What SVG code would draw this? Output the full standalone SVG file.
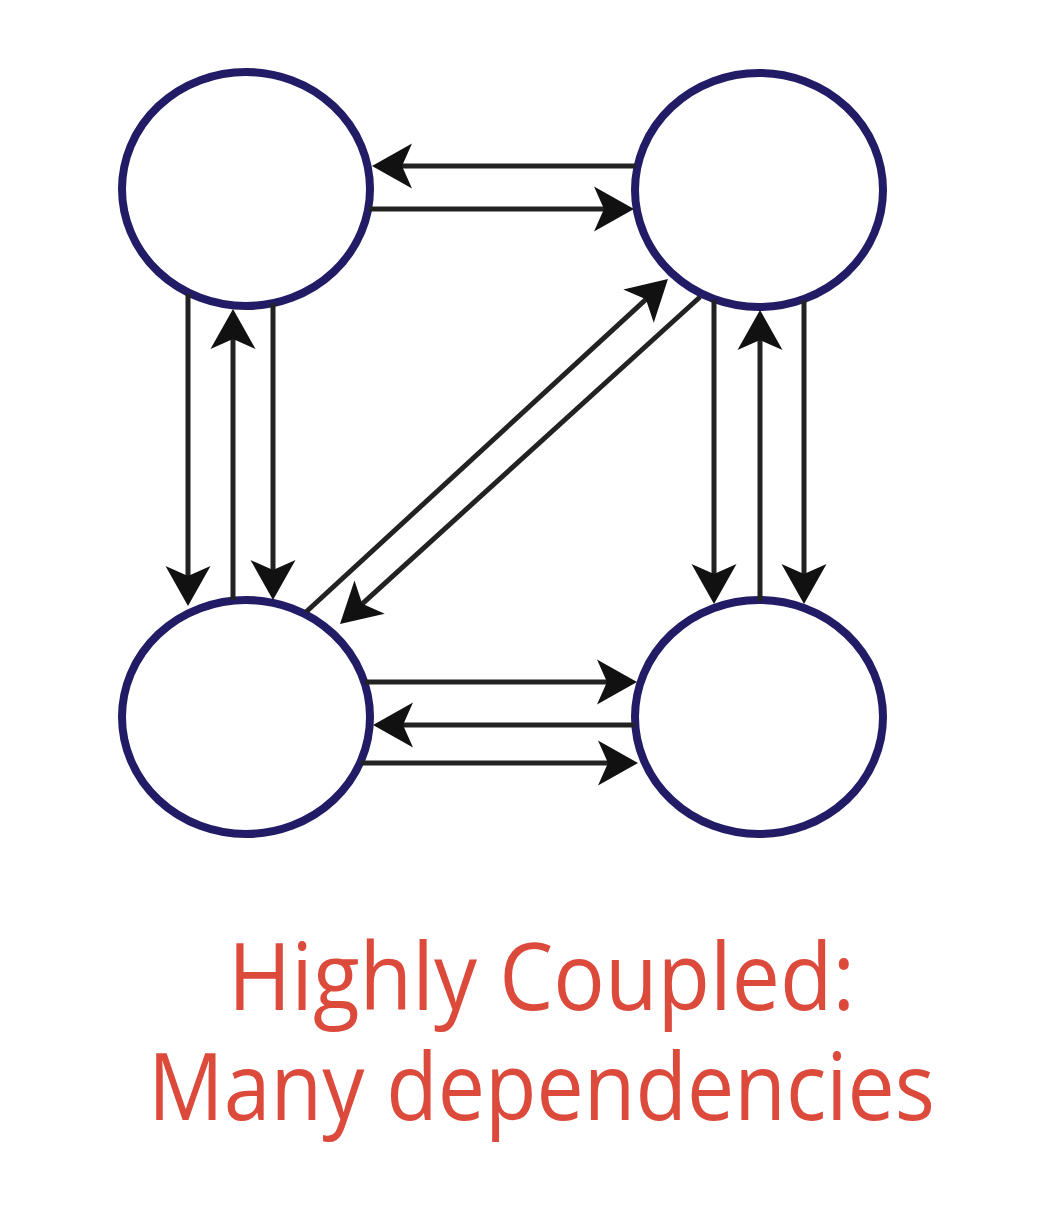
<svg xmlns="http://www.w3.org/2000/svg" width="1040" height="1228" viewBox="0 0 1040 1228">
  <style>
    .node { fill: #ffffff; stroke: #221b66; stroke-width: 8; }
    .edge { fill: none; stroke: #222222; stroke-width: 5; marker-end: url(#arrow); }
    .label { font-family: "Open Sans", "Noto Sans", sans-serif; font-size: 94px; font-weight: 500; fill: #dc4a3c; text-anchor: middle; }
  </style>
  <defs>
    <marker id="arrow" markerUnits="userSpaceOnUse" viewBox="-31 -24 43 48" markerWidth="43" markerHeight="48" refX="0" refY="0" orient="auto">
      <path d="M10,0 L-30,-22.5 L-20,0 L-30,22.5 Z" fill="#111111"/>
    </marker>
  </defs>
  <rect width="1040" height="1228" fill="#ffffff"/>

  <g id="node-top-left"><ellipse class="node" cx="246" cy="189" rx="124" ry="117"/></g>
  <g id="node-top-right"><ellipse class="node" cx="759" cy="190" rx="124" ry="117"/></g>
  <g id="node-bottom-left"><ellipse class="node" cx="246" cy="717" rx="124" ry="117"/></g>
  <g id="node-bottom-right"><ellipse class="node" cx="759" cy="717" rx="124" ry="117"/></g>

  <g id="connectors">
    <line class="edge" x1="636" y1="166" x2="382" y2="166"/>
    <line class="edge" x1="369" y1="209" x2="624" y2="209"/>
    <line class="edge" x1="365" y1="682" x2="627" y2="682"/>
    <line class="edge" x1="635" y1="725" x2="383" y2="725"/>
    <line class="edge" x1="361" y1="763" x2="628" y2="763"/>
    <line class="edge" x1="188" y1="294" x2="188" y2="596"/>
    <line class="edge" x1="233" y1="600" x2="233" y2="319"/>
    <line class="edge" x1="273" y1="303" x2="273" y2="590"/>
    <line class="edge" x1="714" y1="300" x2="714" y2="594"/>
    <line class="edge" x1="760" y1="601" x2="760" y2="320"/>
    <line class="edge" x1="804" y1="300" x2="804" y2="594"/>
    <line class="edge" x1="306" y1="612" x2="660.6" y2="285.8"/>
    <line class="edge" x1="700" y1="297" x2="347.4" y2="617.3"/>
  </g>

  <g id="caption">
    <text class="label" x="541.5" y="1010" textLength="627" lengthAdjust="spacingAndGlyphs">Highly Coupled:</text>
    <text class="label" x="541.5" y="1120" textLength="787" lengthAdjust="spacingAndGlyphs">Many dependencies</text>
  </g>
</svg>
